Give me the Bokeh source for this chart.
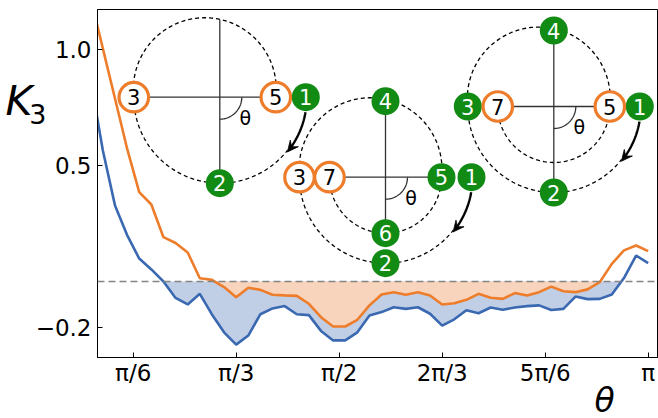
import numpy as np
from bokeh.plotting import figure
from bokeh.models import Range1d, FixedTicker, Span, LinearAxis
from bokeh.core.properties import value
from bokeh.embed import file_html
from bokeh.resources import INLINE

# ---------------- data ----------------
theta_index = list(range(5, 52))          # theta = k*pi/51
orange_vals = [1.220, 1.004, 0.789, 0.573, 0.385, 0.332, 0.191, 0.166, 0.125, 0.014,
               0.007, -0.024, -0.068, -0.027, -0.036, -0.057, -0.060, -0.062, -0.096, -0.154,
               -0.194, -0.194, -0.165, -0.103, -0.056, -0.046, -0.057, -0.046, -0.060, -0.099,
               -0.094, -0.079, -0.053, -0.070, -0.075, -0.050, -0.060, -0.046, -0.022, -0.042,
               -0.046, -0.034, -0.003, 0.076, 0.134, 0.155, 0.131]
blue_vals = [0.866, 0.565, 0.328, 0.200, 0.099, 0.052, 0.000, -0.071, -0.099, -0.053,
             -0.142, -0.219, -0.272, -0.233, -0.141, -0.116, -0.106, -0.141, -0.145, -0.213,
             -0.254, -0.254, -0.219, -0.147, -0.132, -0.111, -0.118, -0.111, -0.139, -0.190,
             -0.163, -0.124, -0.137, -0.112, -0.122, -0.112, -0.106, -0.103, -0.123, -0.118,
             -0.065, -0.076, -0.075, -0.056, 0.015, 0.112, 0.079]
x_ticks = [np.pi / 6, np.pi / 3, np.pi / 2, 2 * np.pi / 3, 5 * np.pi / 6, np.pi]
x_tick_labels = ["π/6", "π/3", "π/2", "2π/3", "5π/6", "π"]
y_ticks = [-0.2, 0.5, 1.0]
y_tick_labels = ["−0.2", "0.5", "1.0"]
y_title = ["K", "3"]
x_title = "θ"

theta = np.array(theta_index) * np.pi / 51
orange = np.array(orange_vals)
blue = np.array(blue_vals)

ORANGE = "#EE7D2B"
BLUE = "#3A69B1"
ORANGE_FILL = "#F9D4BD"
BLUE_FILL = "#C1CFE6"
GREEN = "#118B13"
FONT = "DejaVu Sans"

FRAME_L, FRAME_T, FRAME_W, FRAME_H = 97, 9, 561, 348

p = figure(frame_width=FRAME_W, frame_height=FRAME_H,
           min_border_left=FRAME_L, min_border_right=0, min_border_top=FRAME_T, min_border_bottom=60,
           x_range=Range1d(0.3423, 3.1940), y_range=Range1d(-0.3276, 1.1724),
           output_backend="svg", toolbar_location=None)
p.extra_x_ranges = {"px": Range1d(FRAME_L, FRAME_L + FRAME_W)}
p.extra_y_ranges = {"px": Range1d(-(FRAME_T + FRAME_H), -FRAME_T)}

p.xgrid.visible = False
p.ygrid.visible = False
p.outline_line_color = "black"
p.outline_line_width = 1
p.background_fill_color = "white"
p.border_fill_color = "white"

for ax in (p.xaxis[0], p.yaxis[0]):
    ax.major_tick_in = 5
    ax.major_tick_out = 0
    ax.minor_tick_line_color = None
    ax.major_tick_line_color = "black"
    ax.axis_line_color = "black"
    ax.major_label_text_font = FONT
    ax.major_label_text_font_size = "23px"
    ax.major_label_text_color = "black"

p.xaxis.ticker = FixedTicker(ticks=x_ticks)
p.xaxis.major_label_overrides = {t: l for t, l in zip(x_ticks, x_tick_labels)}
p.xaxis.major_label_standoff = 2
p.yaxis.ticker = FixedTicker(ticks=y_ticks)
p.yaxis.major_label_overrides = {t: l for t, l in zip(y_ticks, y_tick_labels)}
p.yaxis.major_label_standoff = 6


def title_axis(cls_kw, tick, label, size, style, standoff):
    ax = LinearAxis(ticker=FixedTicker(ticks=[tick]), major_label_overrides={tick: label},
                    major_label_text_font=FONT, major_label_text_font_size=size,
                    major_label_text_font_style=style, major_label_text_color="black",
                    major_label_standoff=standoff, axis_line_color=None,
                    major_tick_line_color=None, minor_tick_line_color=None,
                    major_tick_in=0, major_tick_out=0, **cls_kw)
    return ax


# K (italic) and subscript 3 as labels of two outer, line-less axes
p.add_layout(title_axis(dict(y_range_name="px"), -100, y_title[0], "41px", "italic", 0), "left")
p.add_layout(title_axis(dict(y_range_name="px"), -113, y_title[1], "27px", "normal", -44), "left")
# theta title under the tick labels
p.add_layout(title_axis(dict(x_range_name="px"), 604, x_title, "33px", "italic", -8), "below")


def negative_part(x, y):
    xs, ys = [x[0]], [min(y[0], 0.0)]
    for i in range(1, len(x)):
        if y[i - 1] * y[i] < 0:
            xc = x[i - 1] + (x[i] - x[i - 1]) * (-y[i - 1]) / (y[i] - y[i - 1])
            xs.append(xc)
            ys.append(0.0)
        xs.append(x[i])
        ys.append(min(y[i], 0.0))
    return xs, ys


bx, by = negative_part(theta, blue)
p.varea(x=bx, y1=by, y2=0, fill_color=BLUE_FILL)
ox, oy = negative_part(theta, orange)
p.varea(x=ox, y1=oy, y2=0, fill_color=ORANGE_FILL)

p.add_layout(Span(location=0, dimension="width", line_color="#858585",
                  line_dash="7 4", line_width=1.6))

p.line(theta, blue, line_color=BLUE, line_width=2.6)
p.line(theta, orange, line_color=ORANGE, line_width=2.6)

# ---------------- inset diagrams (pixel coordinate system, y up = -page y) ----------------
R_OUT, R_IN = 86.0, 56.0
diagram_centers = [(219.3, 96.7), (385.0, 176.7), (553.3, 106.0)]
# (label, angle deg, radius key, kind)
diagram_particles = [
    [("3", 180, "out", "o"), ("5", 0, "in", "o"), ("1", 0, "out", "g"), ("2", 270, "out", "g")],
    [("3", 180, "out", "o"), ("7", 180, "in", "o"), ("4", 90, "top", "g"), ("5", 0, "in", "g"),
     ("1", 0, "out", "g"), ("6", 270, "in", "g"), ("2", 270, "out", "g")],
    [("3", 180, "out", "g"), ("7", 180, "in", "o"), ("4", 90, "top", "g"), ("5", 0, "in", "o"),
     ("1", 0, "out", "g"), ("2", 270, "out", "g")],
]
diagram_has_inner = [False, True, True]
radius_of = {"out": R_OUT, "in": R_IN, "top": 76.0}

dash_kw = dict(line_color="black", line_dash="4 3", line_width=1.3,
               x_range_name="px", y_range_name="px")
solid_kw = dict(line_color="#333333", line_width=1.3, x_range_name="px", y_range_name="px")

gx, gy, gt = [], [], []
ox_, oy_, ot = [], [], []
th_x, th_y = [], []

for (cx, cy_page), parts, inner in zip(diagram_centers, diagram_particles, diagram_has_inner):
    cy = -cy_page
    # upper arc from left outer point to right inner point
    xl, xr = cx - R_OUT, cx + R_IN
    half = (xr - xl) / 2
    xm = (xl + xr) / 2
    ym = cy + 8
    ru = np.hypot(half, 8)
    a0 = np.arctan2(-8, half)
    phi = np.linspace(a0, np.pi - a0, 120)
    p.line(xm + ru * np.cos(phi), ym + ru * np.sin(phi), **dash_kw)
    # lower outer arc
    phi = np.radians(np.linspace(180, 322, 100))
    p.line(cx + R_OUT * np.cos(phi), cy + R_OUT * np.sin(phi), **dash_kw)
    if inner:
        phi = np.radians(np.linspace(180, 360, 100))
        p.line(cx + R_IN * np.cos(phi), cy + R_IN * np.sin(phi), **dash_kw)
    # cross lines
    has7 = any(lab == "7" for lab, *_ in parts)
    hleft = cx - (R_IN if has7 else R_OUT)
    p.line([hleft, cx + R_IN], [cy, cy], **solid_kw)
    has6 = any(lab == "6" for lab, *_ in parts)
    vtop = cy + 77.5
    vbot = cy - (R_IN if has6 else R_OUT)
    p.line([cx, cx], [vbot, vtop], **solid_kw)
    # angle arc
    phi = np.radians(np.linspace(-90, 0, 40))
    p.line(cx + 22 * np.cos(phi), cy + 22 * np.sin(phi), **solid_kw)
    th_x.append(cx + 25.5)
    th_y.append(cy - 20.5)
    # curved arrow
    ra = 87.0
    phi = np.radians(np.linspace(-10, -36, 40))
    axs = cx + ra * np.cos(phi)
    ays = cy + ra * np.sin(phi)
    p.line(axs, ays, line_color="black", line_width=2.4, x_range_name="px", y_range_name="px")
    ang = np.radians(-39)
    tipx, tipy = cx + ra * np.cos(ang), cy + ra * np.sin(ang)
    dx, dy = np.sin(ang), -np.cos(ang)
    nx, ny = -dy, dx
    L, W = 11.0, 5.2
    p.patch([tipx, tipx - L * dx + W * nx, tipx - 0.6 * L * dx, tipx - L * dx - W * nx],
            [tipy, tipy - L * dy + W * ny, tipy - 0.6 * L * dy, tipy - L * dy - W * ny],
            fill_color="black", line_color="black", line_width=0.8,
            x_range_name="px", y_range_name="px")
    for lab, deg, rk, kind in parts:
        r = radius_of[rk]
        px_ = cx + r * np.cos(np.radians(deg))
        py_ = cy + r * np.sin(np.radians(deg))
        if kind == "g":
            gx.append(px_); gy.append(py_); gt.append(lab)
        else:
            ox_.append(px_); oy_.append(py_); ot.append(lab)

p.text(x=th_x, y=th_y, text=["θ"] * len(th_x), text_font=value(FONT), text_font_size="19px",
       text_color="black", text_align="center", text_baseline="middle",
       x_range_name="px", y_range_name="px")

p.scatter(x=gx, y=gy, size=28, fill_color=GREEN, line_color=None,
          x_range_name="px", y_range_name="px")
p.scatter(x=ox_, y=oy_, size=29.5, fill_color="white", line_color=ORANGE, line_width=3.2,
          x_range_name="px", y_range_name="px")
p.text(x=gx, y=gy, text=gt, text_font=value(FONT), text_font_size="21px", text_color="white",
       text_align="center", text_baseline="middle", x_range_name="px", y_range_name="px")
p.text(x=ox_, y=oy_, text=ot, text_font=value(FONT), text_font_size="21px", text_color="black",
       text_align="center", text_baseline="middle", x_range_name="px", y_range_name="px")

open("out.html", "w").write(file_html(p, INLINE))
